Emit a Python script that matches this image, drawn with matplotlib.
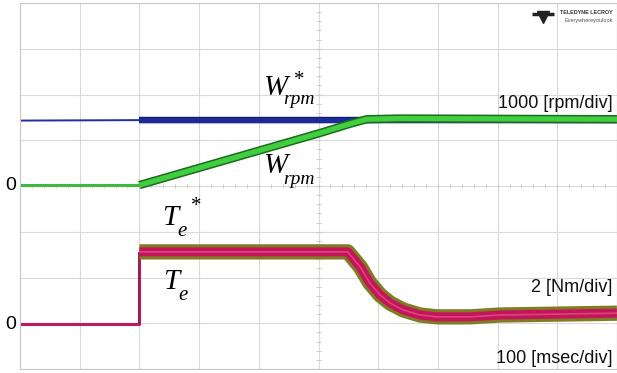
import matplotlib
matplotlib.use("Agg")
import matplotlib.pyplot as plt
import matplotlib.patheffects as pe
import numpy as np

# scope traces, in divisions (x: 10 div of 100 ms, y: 8 div)
w_ref_t = [0.0, 2.0, 10.0]
w_ref = [5.43, 5.44, 5.44]

w_t = [0.0, 2.0, 5.03, 5.53, 5.81, 6.37, 10.0]
w = [4.02, 4.02, 5.16, 5.36, 5.46, 5.475, 5.46]

te_t = [0.0, 2.0, 2.0, 5.49, 5.70, 5.86, 6.03, 6.20, 6.42, 6.70, 6.98, 7.54, 8.04, 10.0]
te_ref = [0.98, 0.98, 2.56, 2.56, 2.23, 1.88, 1.62, 1.44, 1.29, 1.18, 1.14, 1.14, 1.18, 1.22]
te = [0.98, 0.98, 2.56, 2.56, 2.23, 1.88, 1.62, 1.44, 1.29, 1.18, 1.14, 1.14, 1.18, 1.22]

fig = plt.figure(figsize=(6.17, 3.73), dpi=100)
ax = fig.add_axes([20 / 617, 4 / 373, 597 / 617, 366 / 373])
ax.set_xlim(0, 10)
ax.set_ylim(0, 8)
ax.set_xticks(np.arange(0, 11, 1))
ax.set_yticks(np.arange(0, 9, 1))
ax.grid(True, color="#d9d9d9", lw=0.8)
ax.tick_params(length=0, labelbottom=False, labelleft=False)
for s in ax.spines.values():
    s.set_color("#c8c8c8")
    s.set_linewidth(0.8)

# minor ticks on the centre cross
mt = np.arange(0, 10.01, 0.2)
ax.vlines(mt, 3.96, 4.04, color="#c4c4c4", lw=0.6)
mt = np.arange(0, 8.01, 0.2)
ax.hlines(mt, 4.95, 5.05, color="#c4c4c4", lw=0.6)

line = dict(solid_capstyle="butt", solid_joinstyle="round")

# speed reference (blue)
ax.plot(w_ref_t[:2], w_ref[:2], color="#1f2f9f", lw=1.4, **line)
ax.plot(w_ref_t[1:], w_ref[1:], color="#1c2a9a", lw=3.8,
        path_effects=[pe.Stroke(linewidth=4.6, foreground="#101a70"), pe.Normal()], **line)

# speed (green)
ax.plot(w_t[:2], w[:2], color="#40b840", lw=2.2, **line)
ax.plot(w_t[1:], w[1:], color="#3fcf3f", lw=3.8,
        path_effects=[pe.Stroke(linewidth=6.0, foreground="#1f6a1f"), pe.Normal()], **line)

# torque reference (olive) and torque (magenta)
ax.plot(te_t[:3], te[:3], color="#c21860", lw=2.2, **line)
ax.plot(te_t[1:3], te[1:3], color="#8a2050", lw=1.2, **line)
ax.plot(te_t[2:], te_ref[2:], color="#807c24", lw=11, **line)
ax.plot(te_t[2:], te[2:], color="#c4145a", lw=6.5, **line)
ax.plot(te_t[2:], te[2:], color="#e0508a", lw=1.2, alpha=0.8, **line)

# trace labels
tfont = dict(family="Liberation Serif", style="italic", color="black")
ax.text(4.07, 6.15, "W", fontsize=21, va="center", ha="left", **tfont)
ax.text(4.41, 5.88, "rpm", fontsize=14, va="center", ha="left", **tfont)
ax.text(4.57, 6.30, "*", fontsize=15, va="center", ha="left", **tfont)
ax.text(4.07, 4.43, "W", fontsize=21, va="center", ha="left", **tfont)
ax.text(4.41, 4.15, "rpm", fontsize=14, va="center", ha="left", **tfont)
ax.text(2.38, 3.31, "T", fontsize=21, va="center", ha="left", **tfont)
ax.text(2.63, 3.00, "e", fontsize=15, va="center", ha="left", **tfont)
ax.text(2.85, 3.56, "*", fontsize=15, va="center", ha="left", **tfont)
ax.text(2.40, 1.90, "T", fontsize=21, va="center", ha="left", **tfont)
ax.text(2.65, 1.60, "e", fontsize=15, va="center", ha="left", **tfont)

# scale annotations
sfont = dict(family="Liberation Sans", fontsize=13, color="#111111", ha="right", va="center")
ax.text(9.93, 5.81, "1000 [rpm/div]", **sfont)
ax.text(9.93, 1.79, "2 [Nm/div]", **sfont)
ax.text(9.93, 0.24, "100 [msec/div]", **sfont)

# zero markers
ax.text(-0.15, 4.02, "0", family="Liberation Sans", fontsize=14, ha="center", va="center", clip_on=False)
ax.text(-0.15, 0.98, "0", family="Liberation Sans", fontsize=14, ha="center", va="center", clip_on=False)

# logo
ax.plot([8.76], [7.70], marker="v", ms=8, color="#222222")
ax.plot([8.76], [7.76], marker="_", ms=16, mew=2.5, color="#222222")
ax.text(9.93, 7.80, "TELEDYNE LECROY", family="Liberation Sans", fontsize=3.9,
        weight="bold", color="#333333", ha="right", va="center")
ax.text(9.93, 7.62, "Everywhereyoulook", family="Liberation Sans", fontsize=4.0,
        color="#555555", ha="right", va="center")

fig.savefig("out.png", dpi=100)
